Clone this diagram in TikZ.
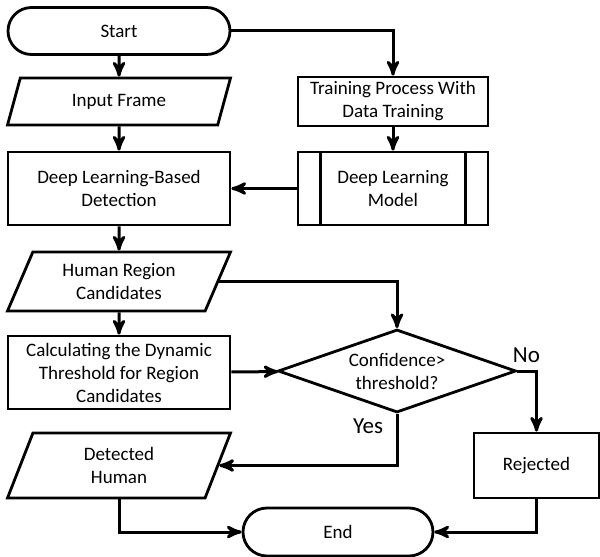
\documentclass[tikz,border=0pt]{standalone}
\usepackage{fontspec}
\setmainfont{Carlito}
\usetikzlibrary{shapes.geometric}
\usetikzlibrary{shapes.misc}
\usetikzlibrary{arrows}
\tikzset{
    process/.style=
    { % Plain step box
        draw,
        rectangle,
        line width=1.4pt,
        align=center,
        inner sep=0pt,
        font=\fontsize{9.5}{11.5}\selectfont
    },
    terminal/.style={process,rounded rectangle}, % Start and End
    io/.style={process,trapezium,trapezium stretches body,
        trapezium left angle=55,trapezium right angle=125}, % Data boxes
    decision/.style={process,diamond,aspect=2.9}, % Test box
    answer/.style={inner sep=0pt,font=\fontsize{11.5}{13}\selectfont}, % Yes / No
    flow/.style={ % Sets the properties for each connector
        draw,
        ->,>=stealth', % Directed with bold arrowheads
        line width=1.5pt
    },
    every edge/.style={flow}
}

\begin{document}
\begin{tikzpicture}[x=0.5pt,y=-0.5pt]
\useasboundingbox (0,0) rectangle (600,557);

\node [terminal,minimum width=111pt,minimum height=23.5pt] (1) at (119,31) {Start};
\node [io,trapezium left angle=50,trapezium right angle=130,
       minimum width=111.5pt,minimum height=23.5pt] (2) at (119,101.5) {Input Frame};
\node [process,minimum width=111pt,minimum height=36.5pt] (3) at (119,188.5) {Deep Learning-Based\\Detection};
\node [process,minimum width=95pt,minimum height=24.5pt] (4) at (393,101.5) {Training Process With\\Data Training};
\node [process,minimum width=95pt,minimum height=36.5pt] (5) at (393,188.5) {Deep Learning\\Model};
\node [io,minimum width=111.5pt,minimum height=29.5pt] (6) at (119,281.5) {Human Region\\Candidates};
\node [process,minimum width=111pt,minimum height=36.5pt] (7) at (119,372.5) {Calculating the Dynamic\\Threshold for Region\\Candidates};
\node [decision,minimum width=119pt,minimum height=41.5pt] (8) at (397,371) {Confidence>\\threshold?};
\node [io,minimum width=111.5pt,minimum height=32.5pt] (9) at (119,465.5) {Detected\\Human};
\node [process,minimum width=62.5pt,minimum height=32.5pt] (10) at (536.5,465.5) {Rejected};
\node [terminal,minimum width=95pt,minimum height=24pt] (11) at (338,532) {End};

% side bars of the model box
\draw [line width=1.4pt] ([xshift=12pt]5.north west) -- ([xshift=12pt]5.south west);
\draw [line width=1.4pt] ([xshift=-12pt]5.north east) -- ([xshift=-12pt]5.south east);

\draw
    (1) edge (2)
    (2) edge (3)
    (4) edge (5)
    (5) edge (3)
    (3) edge (6)
    (6) edge (7)
    (7) edge (8)
    ;
\draw [flow] (1) -| (4);
\draw [flow] (6.east) -| (8);
\draw [flow] (8.east) node[answer,xshift=4.5pt,yshift=8pt] {No} -| (10);
\draw [flow] (8.south) node[answer,xshift=-14.5pt,yshift=-6pt] {Yes} |- (9);
\draw [flow] (9) |- (11);
\draw [flow] (10) |- (11);
\end{tikzpicture}
\end{document}
